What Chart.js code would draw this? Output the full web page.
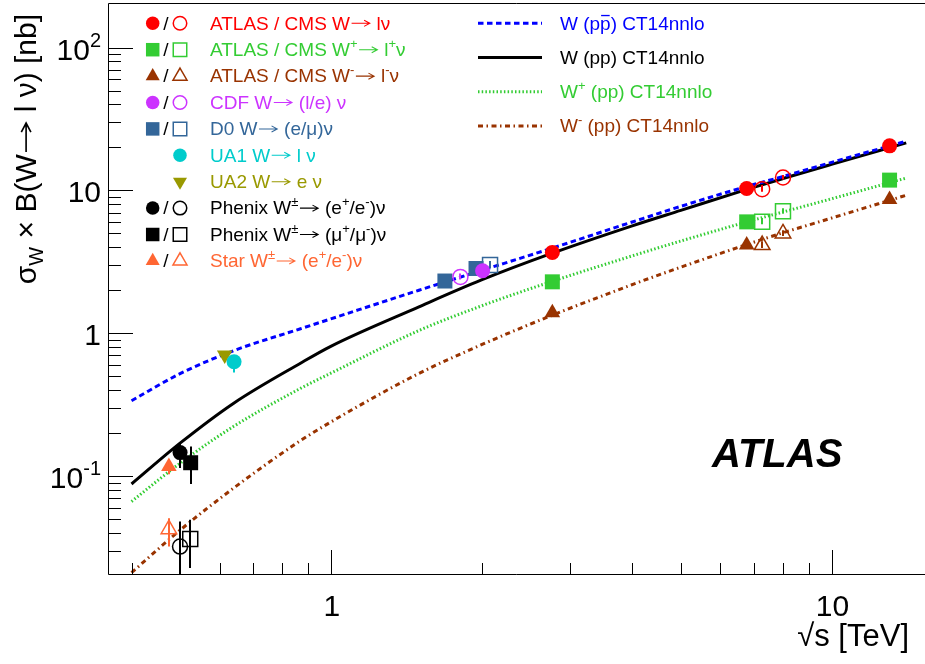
<!DOCTYPE html>
<html>
<head>
<meta charset="utf-8">
<script src="https://cdn.jsdelivr.net/npm/chart.js@4.4.1/dist/chart.umd.min.js"></script>
<style>
  html, body { margin: 0; padding: 0; background: #fff; }
  #wrap { width: 925px; height: 664px; }
</style>
</head>
<body>
<div id="wrap"><canvas id="chart" width="925" height="664"></canvas></div>
<script>
"use strict";

/* ---------- axes ---------- */
const xRange = [0.359, 15.3];
const yRange = [0.0203, 205];
const xTickValues = [0.4, 0.5, 0.6, 0.7, 0.8, 0.9, 1, 2, 3, 4, 5, 6, 7, 8, 9, 10];
const yTickValues = [0.03, 0.04, 0.05, 0.06, 0.07, 0.08, 0.09,
  0.1, 0.2, 0.3, 0.4, 0.5, 0.6, 0.7, 0.8, 0.9,
  1, 2, 3, 4, 5, 6, 7, 8, 9,
  10, 20, 30, 40, 50, 60, 70, 80, 90, 100];
const xLabelValues = [1, 10];
const xLabelTexts = ["1", "10"];
const yLabelValues = [0.1, 1, 10, 100];
const yLabelTexts = ["10^{-1}", "1", "10", "10^{2}"];
const xTitle = "√s [TeV]";
const yTitle = "σ_{W} × B(W→ l ν) [nb]";

/* ---------- theory curves (CT14nnlo) ---------- */
const curveE = [0.4, 0.5, 0.64, 0.87, 1.0, 1.5, 2.0, 2.76, 4.0, 5.0, 6.8, 8.0, 10, 14.1];
const wPPbar = [0.337, 0.521, 0.755, 1.075, 1.26, 2.00, 2.75, 3.93, 6.01, 7.73, 10.7, 12.5, 15.7, 22.1];
const wPP    = [0.088, 0.170, 0.324, 0.617, 0.81, 1.53, 2.36, 3.62, 5.65, 7.25, 10.2, 12.1, 15.2, 21.5];
const wPlus  = [0.0664, 0.123, 0.223, 0.411, 0.525, 1.045, 1.554, 2.30, 3.48, 4.42, 6.04, 7.06, 8.73, 12.2];
const wMinus = [0.0211, 0.0418, 0.0825, 0.177, 0.239, 0.523, 0.831, 1.33, 2.19, 2.90, 4.2, 5.05, 6.4, 9.25];
const curveLabels = ["W (p#bar{p}) CT14nnlo", "W (pp) CT14nnlo", "W^{+} (pp) CT14nnlo", "W^{-} (pp) CT14nnlo"];

/* ---------- measurements ---------- */
const atlasWE = [2.77, 6.77, 13.06],  atlasWY = [3.68, 10.3, 20.5];
const cmsWE = [7.27, 8.0],            cmsWY = [10.2, 12.3],  cmsWLo = [9.8, 11.9],  cmsWHi = [10.9, 12.8];
const atlasWpE = [2.77, 6.77, 13.06], atlasWpY = [2.29, 6.02, 11.8];
const cmsWpE = [7.27, 8.0],           cmsWpY = [6.02, 7.15], cmsWpLo = [5.8, 6.9],  cmsWpHi = [6.4, 7.5];
const atlasWmE = [2.77, 6.77, 13.06], atlasWmY = [1.39, 4.14, 8.63];
const cmsWmE = [7.27, 8.0],           cmsWmY = [4.14, 5.0],  cmsWmLo = [3.95, 4.8], cmsWmHi = [4.4, 5.25];
const cdfE = [2.01],                  cdfY = [2.74];
const cdfOpenE = [1.815],             cdfOpenY = [2.48],     cdfOpenLo = [2.38],    cdfOpenHi = [2.62];
const d0E = [1.69, 1.95],             d0Y = [2.32, 2.84];
const d0OpenE = [2.08],               d0OpenY = [3.0],       d0OpenLo = [2.85],     d0OpenHi = [3.2];
const ua1E = [0.641],                 ua1Y = [0.632],        ua1Lo = [0.53],        ua1Hi = [0.70];
const ua2E = [0.614],                 ua2Y = [0.705];
const phxEE = [0.5],                  phxEY = [0.146],       phxELo = [0.114],      phxEHi = [0.17];
const phxEOpenE = [0.5],              phxEOpenY = [0.0321],  phxEOpenLo = [0.015],  phxEOpenHi = [0.048];
const phxMuE = [0.525],               phxMuY = [0.124],      phxMuLo = [0.088],     phxMuHi = [0.161];
const phxMuOpenE = [0.524],           phxMuOpenY = [0.0362], phxMuOpenLo = [0.0227], phxMuOpenHi = [0.0494];
const starE = [0.475],                starY = [0.1165],      starLo = [0.103],      starHi = [0.13];
const starOpenE = [0.475],            starOpenY = [0.0425],  starOpenLo = [0.0322], starOpenHi = [0.0507];

const legendLabels = [
  "ATLAS / CMS W→ lν",
  "ATLAS / CMS W^{+}→ l^{+}ν",
  "ATLAS / CMS W^{-}→ l^{-}ν",
  "CDF W→ (l/e) ν",
  "D0 W→ (e/μ)ν",
  "UA1 W→ l ν",
  "UA2 W→ e ν",
  "Phenix W^{±}→ (e^{+}/e^{-})ν",
  "Phenix W^{±}→ (μ^{+}/μ^{-})ν",
  "Star W^{±}→ (e^{+}/e^{-})ν"
];
const experimentLabel = "ATLAS";

/* ---------- styles ---------- */
const C = {
  red: "#ff0000", green: "#33cc33", brown: "#993300", purple: "#cc33ff", steel: "#336699",
  cyan: "#00cccc", olive: "#999900", black: "#000000", star: "#ff6633", blue: "#0000ff"
};
const FONT = "'Liberation Sans', Arial, Helvetica, sans-serif";
const RADIUS = { circle: 7.5, rect: 10.6, triangle: 9 };

const zip = (xs, ys) => xs.map((v, i) => ({ x: v, y: ys[i] }));

function markers(x, y, color, style, open, row, slot, lo, hi, rot) {
  return {
    data: zip(x, y),
    errLo: lo || null, errHi: hi || null,
    pointStyle: style, pointRotation: rot || 0,
    pointRadius: RADIUS[style], pointHoverRadius: RADIUS[style],
    pointBackgroundColor: open ? "rgba(0,0,0,0)" : color,
    pointBorderColor: color, pointBorderWidth: open ? 1.5 : 0,
    showLine: false, order: 0,
    legendRow: row, legendSlot: slot, legendOpen: open, legendColor: color
  };
}

function curve(y, color, dash, row) {
  return {
    data: zip(curveE, y),
    showLine: true, pointRadius: 0, pointHoverRadius: 0,
    borderColor: color, borderWidth: 3, borderDash: dash, borderCapStyle: "butt",
    cubicInterpolationMode: "monotone", fill: false, order: 1,
    curveRow: row
  };
}

const datasets = [
  markers(atlasWE, atlasWY, C.red, "circle", false, 0, 0),
  markers(cmsWE, cmsWY, C.red, "circle", true, 0, 1, cmsWLo, cmsWHi),
  markers(atlasWpE, atlasWpY, C.green, "rect", false, 1, 0),
  markers(cmsWpE, cmsWpY, C.green, "rect", true, 1, 1, cmsWpLo, cmsWpHi),
  markers(atlasWmE, atlasWmY, C.brown, "triangle", false, 2, 0),
  markers(cmsWmE, cmsWmY, C.brown, "triangle", true, 2, 1, cmsWmLo, cmsWmHi),
  markers(cdfE, cdfY, C.purple, "circle", false, 3, 0),
  markers(cdfOpenE, cdfOpenY, C.purple, "circle", true, 3, 1, cdfOpenLo, cdfOpenHi),
  markers(d0E, d0Y, C.steel, "rect", false, 4, 0),
  markers(d0OpenE, d0OpenY, C.steel, "rect", true, 4, 1, d0OpenLo, d0OpenHi),
  markers(ua1E, ua1Y, C.cyan, "circle", false, 5, 1, ua1Lo, ua1Hi),
  markers(ua2E, ua2Y, C.olive, "triangle", false, 6, 1, null, null, 180),
  markers(phxEE, phxEY, C.black, "circle", false, 7, 0, phxELo, phxEHi),
  markers(phxEOpenE, phxEOpenY, C.black, "circle", true, 7, 1, phxEOpenLo, phxEOpenHi),
  markers(phxMuE, phxMuY, C.black, "rect", false, 8, 0, phxMuLo, phxMuHi),
  markers(phxMuOpenE, phxMuOpenY, C.black, "rect", true, 8, 1, phxMuOpenLo, phxMuOpenHi),
  markers(starE, starY, C.star, "triangle", false, 9, 0, starLo, starHi),
  markers(starOpenE, starOpenY, C.star, "triangle", true, 9, 1, starOpenLo, starOpenHi),
  curve(wPPbar, C.blue, [5.5, 3.5], 0),
  curve(wPP, C.black, [], 1),
  curve(wPlus, C.green, [1.5, 2.2], 2),
  curve(wMinus, C.brown, [5, 3.5, 1.5, 3.5], 3)
];

/* ---------- ROOT-like text: ^{} _{} #bar{} and a long arrow ---------- */
function richSegments(str) {
  const re = /\^\{([^}]*)\}|_\{([^}]*)\}|#bar\{([^}]*)\}|(→)|([^^_#→]+)/g;
  const out = [];
  let m;
  while ((m = re.exec(str))) {
    if (m[1] !== undefined) out.push({ t: m[1], k: "sup" });
    else if (m[2] !== undefined) out.push({ t: m[2], k: "sub" });
    else if (m[3] !== undefined) out.push({ t: m[3], k: "bar" });
    else if (m[4] !== undefined) out.push({ t: m[4], k: "arrow" });
    else out.push({ t: m[5], k: "n" });
  }
  return out;
}

function drawRich(ctx, str, x, y, size, color, align, style) {
  const segs = richSegments(str);
  const fontFor = k => `${style || ""} ${(k === "sup" || k === "sub") ? Math.round(size * 0.68) : size}px ${FONT}`;
  let w = 0;
  segs.forEach(s => {
    ctx.font = fontFor(s.k);
    s.w = s.k === "arrow" ? size * 1.12 : ctx.measureText(s.t).width;
    w += s.w;
  });
  let cx = align === "right" ? x - w : align === "center" ? x - w / 2 : x;
  ctx.fillStyle = color;
  ctx.strokeStyle = color;
  ctx.textAlign = "left";
  ctx.textBaseline = "alphabetic";
  segs.forEach(s => {
    ctx.font = fontFor(s.k);
    if (s.k === "arrow") {
      const ay = y - 0.33 * size, x0 = cx + 0.08 * size, x1 = cx + 1.04 * size;
      ctx.lineWidth = Math.max(1, size * 0.055);
      ctx.beginPath();
      ctx.moveTo(x0, ay);
      ctx.lineTo(x1, ay);
      ctx.moveTo(x1 - 0.3 * size, ay - 0.16 * size);
      ctx.lineTo(x1, ay);
      ctx.lineTo(x1 - 0.3 * size, ay + 0.16 * size);
      ctx.stroke();
    } else {
      const dy = s.k === "sup" ? -0.42 * size : s.k === "sub" ? 0.22 * size : 0;
      ctx.fillText(s.t, cx, y + dy);
      if (s.k === "bar") {
        ctx.lineWidth = Math.max(1, size * 0.07);
        ctx.beginPath();
        ctx.moveTo(cx + 1, y - 0.74 * size);
        ctx.lineTo(cx + s.w - 1, y - 0.74 * size);
        ctx.stroke();
      }
    }
    cx += s.w;
  });
  return w;
}

function legendMarker(ctx, ds, x, y, scale) {
  ctx.save();
  ctx.fillStyle = ds.legendOpen ? "rgba(0,0,0,0)" : ds.legendColor;
  ctx.strokeStyle = ds.legendColor;
  ctx.lineWidth = ds.pointBorderWidth;
  Chart.helpers.drawPoint(ctx, {
    pointStyle: ds.pointStyle, rotation: ds.pointRotation,
    radius: ds.pointRadius * scale, borderWidth: ds.pointBorderWidth
  }, x, y);
  ctx.restore();
}

/* ---------- plugin: frame, inward ticks, labels, legends, error bars ---------- */
const rootStyle = {
  id: "rootStyle",
  afterDatasetsDraw(chart) {
    const { ctx, chartArea: a, scales: { x, y } } = chart;
    ctx.save();
    ctx.beginPath();
    ctx.rect(a.left, a.top, a.right - a.left, a.bottom - a.top);
    ctx.clip();
    chart.data.datasets.forEach(ds => {
      if (!ds.errLo) return;
      ctx.strokeStyle = ds.pointBorderColor;
      ctx.lineWidth = 2;
      ds.data.forEach((p, i) => {
        const px = Math.round(x.getPixelForValue(p.x));
        ctx.beginPath();
        ctx.moveTo(px, y.getPixelForValue(ds.errLo[i]));
        ctx.lineTo(px, y.getPixelForValue(ds.errHi[i]));
        ctx.stroke();
      });
    });
    ctx.restore();
  },
  afterDraw(chart) {
    const { ctx, chartArea: a, scales: { x, y } } = chart;
    const isMajor = v => Math.abs(Math.log10(v) - Math.round(Math.log10(v))) < 1e-6;
    ctx.save();

    // frame (right edge falls outside the picture)
    ctx.strokeStyle = "#000";
    ctx.lineWidth = 1;
    ctx.beginPath();
    ctx.moveTo(chart.width, a.top + 0.5);
    ctx.lineTo(a.left + 0.5, a.top + 0.5);
    ctx.lineTo(a.left + 0.5, a.bottom - 0.5);
    ctx.lineTo(chart.width, a.bottom - 0.5);
    ctx.stroke();

    // ticks pointing into the frame
    ctx.beginPath();
    x.ticks.forEach(t => {
      const px = Math.round(x.getPixelForValue(t.value)) + 0.5;
      const len = isMajor(t.value) ? 25 : 12;
      ctx.moveTo(px, a.bottom);
      ctx.lineTo(px, a.bottom - len);
    });
    y.ticks.forEach(t => {
      const py = Math.round(y.getPixelForValue(t.value)) + 0.5;
      const len = isMajor(t.value) ? 25 : 13;
      ctx.moveTo(a.left, py);
      ctx.lineTo(a.left + len, py);
    });
    ctx.stroke();

    // tick labels
    xLabelValues.forEach((v, i) => {
      drawRich(ctx, xLabelTexts[i], x.getPixelForValue(v) + 1, 616, 30, "#000", "center");
    });
    yLabelValues.forEach((v, i) => {
      drawRich(ctx, yLabelTexts[i], 101, y.getPixelForValue(v) + 12, 30, "#000", "right");
    });

    // axis titles
    drawRich(ctx, xTitle, 909, 646, 31, "#000", "right");
    ctx.save();
    ctx.translate(36, 14);
    ctx.rotate(-Math.PI / 2);
    drawRich(ctx, yTitle, 0, 0, 30, "#000", "right");
    ctx.restore();

    // experiment label
    drawRich(ctx, experimentLabel, 712, 467, 40, "#000", "left", "italic bold");

    // marker legend
    const rowY0 = 23.3, rowDy = 26.4;
    legendLabels.forEach((label, row) => {
      const cy = rowY0 + row * rowDy;
      const sets = chart.data.datasets.filter(ds => ds.legendRow === row);
      sets.forEach(ds => legendMarker(ctx, ds, ds.legendSlot === 0 ? 152.7 : 180, cy, 0.9));
      if (sets.length > 1) drawRich(ctx, "/", 166, cy + 6.3, 19, "#000", "center");
      const col = (sets.find(ds => ds.legendSlot === 0) || sets[0]).legendColor;
      drawRich(ctx, label, 210, cy + 6.3, 19, col, "left");
    });

    // curve legend
    const lineY0 = 23.3, lineDy = 34.2;
    chart.data.datasets.filter(ds => ds.curveRow !== undefined).forEach(ds => {
      const cy = lineY0 + ds.curveRow * lineDy;
      ctx.save();
      ctx.strokeStyle = ds.borderColor;
      ctx.lineWidth = ds.borderWidth;
      ctx.setLineDash(ds.borderDash);
      ctx.beginPath();
      ctx.moveTo(478, cy);
      ctx.lineTo(542, cy);
      ctx.stroke();
      ctx.restore();
      drawRich(ctx, curveLabels[ds.curveRow], 560, cy + 6.3, 19, ds.borderColor, "left");
    });

    ctx.restore();
  }
};

new Chart(document.getElementById("chart"), {
  type: "scatter",
  data: { datasets },
  options: {
    responsive: false,
    animation: false,
    devicePixelRatio: 1,
    layout: { autoPadding: false, padding: { top: 3, right: 1, left: 0, bottom: 0 } },
    plugins: { legend: { display: false }, tooltip: { enabled: false } },
    scales: {
      x: {
        type: "logarithmic", min: xRange[0], max: xRange[1],
        afterBuildTicks: s => { s.ticks = xTickValues.map(v => ({ value: v })); },
        afterFit: s => { s.height = 89; },
        ticks: { display: false },
        grid: { display: false },
        border: { display: false }
      },
      y: {
        type: "logarithmic", min: yRange[0], max: yRange[1],
        afterBuildTicks: s => { s.ticks = yTickValues.map(v => ({ value: v })); },
        afterFit: s => { s.width = 108; },
        ticks: { display: false },
        grid: { display: false },
        border: { display: false }
      }
    }
  },
  plugins: [rootStyle]
});
</script>
</body>
</html>
